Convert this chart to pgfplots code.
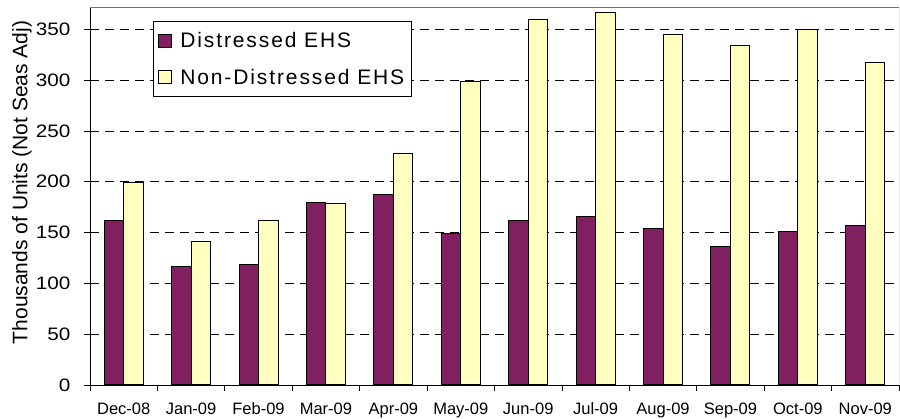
\documentclass[border=0pt]{standalone}
\usepackage{fontspec}
\setmainfont{Liberation Sans}
\newfontfamily\legfont{Liberation Sans}[LetterSpace=9]
\newfontfamily\tickfont{Liberation Sans}[FakeStretch=1.15]
\usepackage{pgfplots}
\pgfplotsset{compat=1.18}
\definecolor{plum}{RGB}{128,32,96}
\definecolor{lyellow}{RGB}{255,255,192}
\begin{document}
\begin{tikzpicture}
\begin{axis}[
  at={(0,0)}, anchor=south west,
  scale only axis, width=809pt, height=378pt,
  xmin=-0.5, xmax=11.5, ymin=0, ymax=372,
  ybar=0pt, bar width=19.5pt,
  axis x line*=bottom, axis y line*=left,
  axis line style={black, line width=0.8pt},
  tick align=outside, major tick length=6pt,
  tick style={black, line width=0.8pt},
  /pgf/number format/assume math mode=true,
  ytick={0,50,...,350},
  yticklabel style={font=\tickfont\fontsize{18}{18}\selectfont, xshift=-10pt},
  xtick={-0.5,0.5,...,11.5},
  x tick label as interval,
  xticklabels={Dec-08,Jan-09,Feb-09,Mar-09,Apr-09,May-09,Jun-09,Jul-09,Aug-09,Sep-09,Oct-09,Nov-09},
  xticklabel style={font=\fontsize{16.5}{16.5}\selectfont, yshift=-8pt},
  ymajorgrids,
  major grid style={black, dash pattern=on 9pt off 6pt, line width=0.6pt},
  ylabel={Thousands of Units (Not Seas Adj)},
  every axis y label/.style={at={(axis description cs:0,0.536)}, xshift=-68pt, rotate=90, anchor=center, font=\fontsize{21}{21}\selectfont},
  legend style={at={(rel axis cs:0.0779,0.963)}, anchor=north west, draw=black, line width=0.6pt, font=\legfont\fontsize{21}{21}\selectfont, inner xsep=5pt, inner ysep=9pt, row sep=16pt, column sep=6pt},
  legend cell align=left,
  legend image code/.code={\draw[#1, line width=1pt] (0pt,-6.5pt) rectangle (13pt,6.5pt);},
]
\addplot[fill=plum, draw=black, line width=1pt] coordinates {
(0,162) (1,117) (2,119) (3,180) (4,187) (5,149) (6,162) (7,166) (8,154) (9,136) (10,151) (11,157)};
\addplot[fill=lyellow, draw=black, line width=1pt] coordinates {
(0,199) (1,141) (2,162) (3,179) (4,228) (5,299) (6,360) (7,367) (8,345) (9,334) (10,350) (11,317)};
\legend{Distressed EHS, Non-Distressed EHS}
\draw[black!55, line width=0.8pt] (rel axis cs:0,1) -- (rel axis cs:1,1) -- (rel axis cs:1,0);
\end{axis}
\pgfresetboundingbox
\useasboundingbox (-90pt,-34pt) rectangle (810pt,385pt);
\end{tikzpicture}
\end{document}
